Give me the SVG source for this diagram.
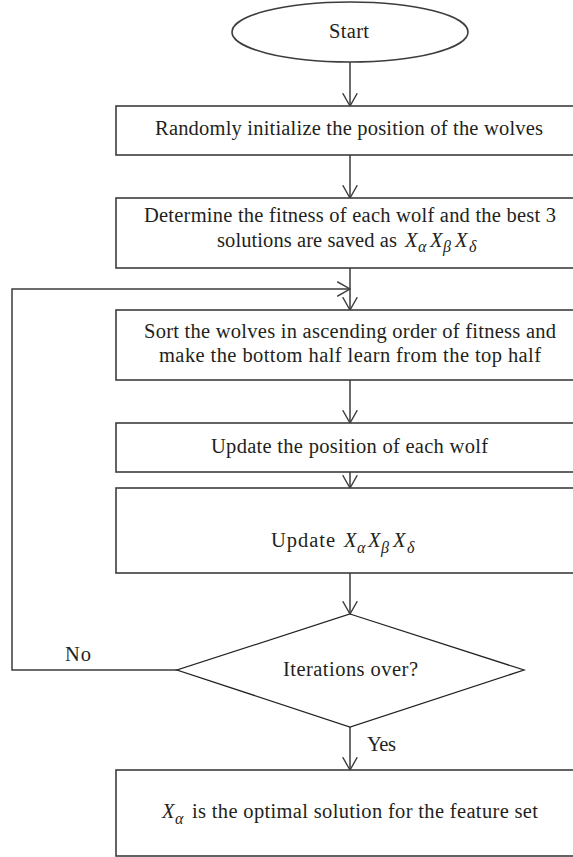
<svg xmlns="http://www.w3.org/2000/svg" width="573" height="857" viewBox="0 0 573 857">
<style>
.box{fill:#fff;stroke:#3d3d3d;stroke-width:1.6}
.dia{fill:#fff;stroke:#222;stroke-width:1.3}
.t{font-family:"Liberation Serif","Times New Roman",serif;font-size:20.5px;fill:#231f20}
.m{font-style:italic}
.s{font-style:italic;font-size:16px}
.c{fill:none;stroke:#3d3d3d;stroke-width:1.5}
</style>
<defs>
<marker id="ah" viewBox="0 0 14 16" refX="13.3" refY="8" markerWidth="14" markerHeight="16" markerUnits="userSpaceOnUse" orient="auto">
<path d="M0.5,0.7 L13.3,8 L0.5,15.3" fill="none" stroke="#3d3d3d" stroke-width="1.4"/>
</marker>
</defs>
<g id="connectors">
<line class="c" x1="350" y1="62" x2="350" y2="106" marker-end="url(#ah)"/>
<line class="c" x1="350" y1="155" x2="350" y2="198" marker-end="url(#ah)"/>
<line class="c" x1="350" y1="268" x2="350" y2="310" marker-end="url(#ah)"/>
<line class="c" x1="350" y1="380" x2="350" y2="423" marker-end="url(#ah)"/>
<line class="c" x1="350" y1="472" x2="350" y2="488" marker-end="url(#ah)"/>
<line class="c" x1="350" y1="573" x2="350" y2="614" marker-end="url(#ah)"/>
<line class="c" x1="350" y1="727" x2="350" y2="770" marker-end="url(#ah)"/>
<polyline class="c" points="177,670 12,670 12,289 350,289" marker-end="url(#ah)"/>
<text class="t" x="65" y="661" textLength="26">No</text>
<text class="t" x="367" y="751" textLength="29">Yes</text>
</g>
<g id="start">
<ellipse class="box" cx="350" cy="32" rx="118" ry="30"/>
<text class="t" x="329" y="38" textLength="40">Start</text>
</g>
<g id="init">
<rect class="box" x="116" y="106" width="468" height="49"/>
<text class="t" x="155" y="135" textLength="388">Randomly initialize the position of the wolves</text>
</g>
<g id="fitness">
<rect class="box" x="116" y="198" width="468" height="70"/>
<text class="t" x="144" y="222" textLength="412">Determine the fitness of each wolf and the best 3</text>
<text class="t" x="217" y="247" textLength="180">solutions are saved as</text>
<text class="t"><tspan class="m" x="405" y="247">X</tspan><tspan class="s" x="418" y="252">α</tspan><tspan class="m" x="430" y="247">X</tspan><tspan class="s" x="443" y="252">β</tspan><tspan class="m" x="455" y="247">X</tspan><tspan class="s" x="469" y="252">δ</tspan></text>
</g>
<g id="sort">
<rect class="box" x="116" y="310" width="468" height="70"/>
<text class="t" x="144" y="338" textLength="412">Sort the wolves in ascending order of fitness and</text>
<text class="t" x="159" y="362" textLength="382">make the bottom half learn from the top half</text>
</g>
<g id="update-pos">
<rect class="box" x="116" y="423" width="468" height="49"/>
<text class="t" x="211" y="453" textLength="277">Update the position of each wolf</text>
</g>
<g id="update-best">
<rect class="box" x="116" y="488" width="468" height="85"/>
<text class="t" x="271" y="547" textLength="64">Update</text>
<text class="t"><tspan class="m" x="344" y="547">X</tspan><tspan class="s" x="357" y="553">α</tspan><tspan class="m" x="368" y="547">X</tspan><tspan class="s" x="381" y="553">β</tspan><tspan class="m" x="393" y="547">X</tspan><tspan class="s" x="407" y="553">δ</tspan></text>
</g>
<g id="decision">
<polygon class="dia" points="350,614 524,670 350,727 177,670"/>
<text class="t" x="283" y="676" textLength="135">Iterations over?</text>
</g>
<g id="result">
<rect class="box" x="116" y="770" width="468" height="86"/>
<text class="t"><tspan class="m" x="162" y="818">X</tspan><tspan class="s" x="175" y="824">α</tspan></text>
<text class="t" x="192" y="818" textLength="346">is the optimal solution for the feature set</text>
</g>
</svg>
